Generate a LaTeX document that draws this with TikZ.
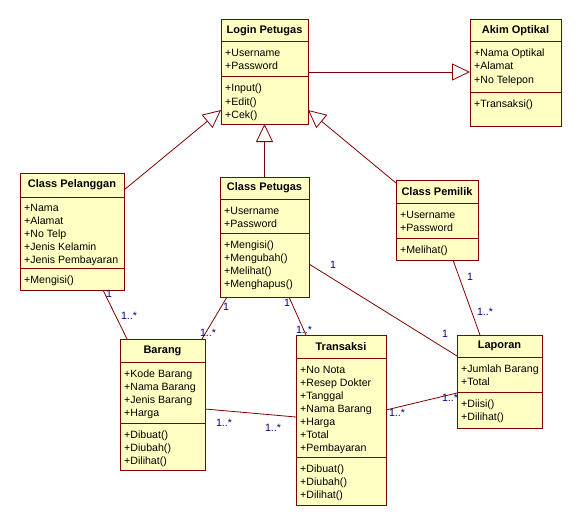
\documentclass[tikz,border=0pt]{standalone}
\usepackage{fontspec}
\setmainfont{Liberation Sans}
\usetikzlibrary{arrows.meta}
\definecolor{boxfill}{HTML}{FFFFC4}
\definecolor{boxline}{HTML}{800000}
\definecolor{mult}{HTML}{000080}
\tikzset{
 cls/.style={draw=boxline, fill=boxfill, line width=1pt, inner sep=0pt, outer sep=0pt},
 sep/.style={draw=boxline, line width=1pt},
 ttl/.style={font=\fontsize{11}{13}\selectfont\bfseries, inner sep=0pt},
 mem/.style={font=\fontsize{10.6}{13}\selectfont, inner sep=0pt},
 lnk/.style={draw=boxline, line width=0.8pt},
 gen/.style={lnk, -{Triangle[open, length=18pt, width=17pt]}},
 mul/.style={font=\fontsize{10.6}{13}\selectfont, text=mult, inner sep=0pt},
}
\newcommand\classbox[8]{%
 \node[cls, anchor=north west, minimum width={#4-#2}, minimum height={#7-#3}] (#1) at (#2,#3) {};
 \draw[sep] (#2,#5) -- (#4,#5);
 \draw[sep] (#2,#6) -- (#4,#6);
 \node[ttl] (#1-title) at ({(#2+#4)/2},{(#3+#5)/2}) {#8};
}
\newcommand\members[4]{%
 \foreach \t [count=\i from 0] in {#4} {\node[mem, anchor=base west] (#1-\i) at (#2, {#3+13*\i}) {\t};}
}
\begin{document}
\begin{tikzpicture}[x=1pt,y=-1pt]
\fill[white] (0,0) rectangle (581,527);
\useasboundingbox (0,0) rectangle (581,527);

% classes
\classbox{login}{221}{20}{308}{42}{77}{124}{Login Petugas}
\members{loginA}{225}{57}{{+Username},{+Password}}
\members{loginO}{225}{92}{{+Input()},{+Edit()},{+Cek()}}

\classbox{akim}{470}{20}{561}{42}{92}{126}{Akim Optikal}
\members{akimA}{474}{57}{{+Nama Optikal},{+Alamat},{+No Telepon}}
\members{akimO}{474}{107}{{+Transaksi()}}

\classbox{pel}{20}{173}{124}{197}{268}{290}{Class Pelanggan}
\members{pelA}{24}{211}{{+Nama},{+Alamat},{+No Telp},{+Jenis Kelamin},{+Jenis Pembayaran}}
\members{pelO}{24}{283}{{+Mengisi()}}

\classbox{petugas}{220}{177}{309}{199}{233}{297}{Class Petugas}
\members{petA}{224}{214}{{+Username},{+Password}}
\members{petO}{224}{248}{{+Mengisi()},{+Mengubah()},{+Melihat()},{+Menghapus()}}

\classbox{pemilik}{396}{180}{478}{203}{238}{260}{Class Pemilik}
\members{pemA}{400}{218}{{+Username},{+Password}}
\members{pemO}{400}{253}{{+Melihat()}}

\classbox{barang}{120}{339}{205}{362}{423}{470}{Barang}
\members{barA}{124}{377}{{+Kode Barang},{+Nama Barang},{+Jenis Barang},{+Harga}}
\members{barO}{124}{438}{{+Dibuat()},{+Diubah()},{+Dilihat()}}

\classbox{transaksi}{296}{335}{386}{358}{457}{505}{Transaksi}
\members{trA}{300}{373}{{+No Nota},{+Resep Dokter},{+Tanggal},{+Nama Barang},{+Harga},{+Total},{+Pembayaran}}
\members{trO}{300}{472}{{+Dibuat()},{+Diubah()},{+Dilihat()}}

\classbox{laporan}{457}{335}{542}{357}{392}{428}{Laporan}
\members{lapA}{461}{372}{{+Jumlah Barang},{+Total}}
\members{lapO}{461}{407}{{+Diisi()},{+Dilihat()}}

% generalizations
\draw[gen] ([yshift=-17pt]pel.north east) -- ([yshift=-90pt]login.north west);
\draw[gen] (petugas.north) -- (login.south);
\draw[gen] ([yshift=-3pt]pemilik.north west) -- ([yshift=-90pt]login.north east);
\draw[gen] ([yshift=-52pt]login.north east) -- ([yshift=-52pt]akim.north west);

% associations
\draw[lnk] ([xshift=83pt]pel.south west) -- ([xshift=7pt]barang.north west);
\draw[lnk] ([xshift=7pt]petugas.south west) -- ([xshift=-3pt]barang.north east);
\draw[lnk] ([xshift=-20pt]petugas.south east) -- ([xshift=10pt]transaksi.north west);
\draw[lnk] ([yshift=-87pt]petugas.north east) -- ([yshift=-21pt]laporan.north west);
\draw[lnk] ([xshift=57pt]pemilik.south west) -- ([xshift=23pt]laporan.north west);
\draw[lnk] ([yshift=-70pt]barang.north east) -- ([yshift=-82pt]transaksi.north west);
\draw[lnk] ([yshift=-75pt]transaksi.north east) -- ([yshift=-58pt]laporan.north west);

% multiplicities
\node[mul] (m1) at (109,294) {1};
\node[mul] (m2) at (129,316) {1..*};
\node[mul] (m3) at (226,307) {1};
\node[mul] (m4) at (208,333) {1..*};
\node[mul] (m5) at (287,303) {1};
\node[mul] (m6) at (304,330) {1..*};
\node[mul] (m7) at (333,265) {1};
\node[mul] (m8) at (445,334) {1};
\node[mul] (m9) at (470,277) {1};
\node[mul] (m10) at (485,312) {1..*};
\node[mul] (m11) at (224,423) {1..*};
\node[mul] (m12) at (273,428) {1..*};
\node[mul] (m13) at (397,413) {1..*};
\node[mul] (m14) at (450,398) {1..*};
\end{tikzpicture}
\end{document}
